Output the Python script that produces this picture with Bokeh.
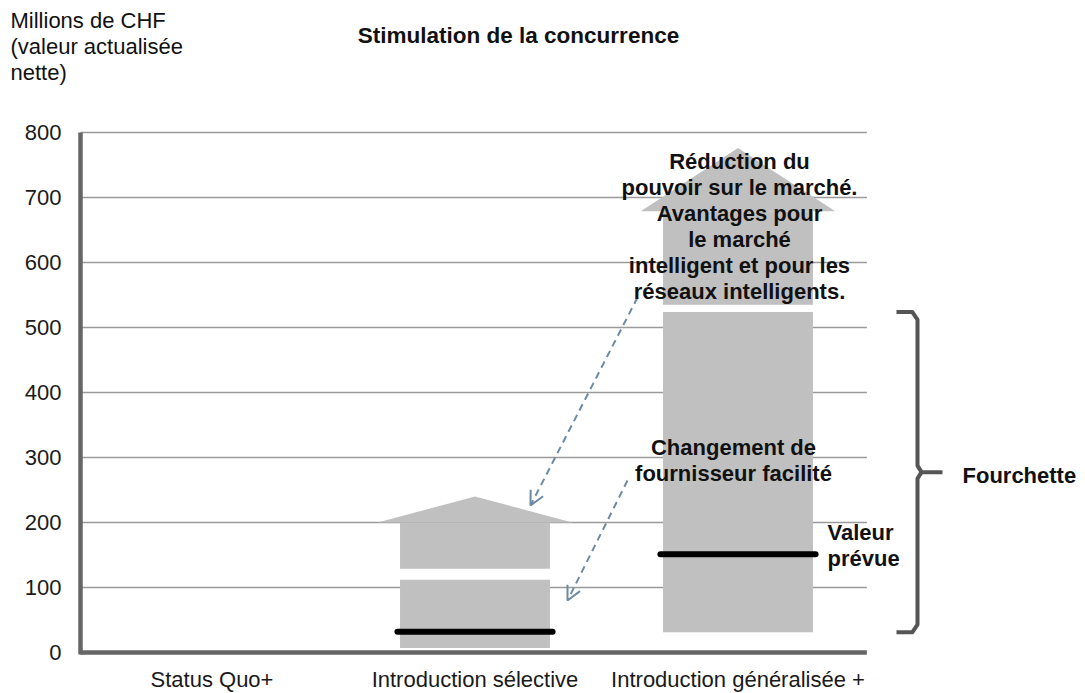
from bokeh.plotting import figure
from bokeh.models import Range1d, FixedTicker, Label, Arrow, OpenHead, ColumnDataSource
from bokeh.embed import file_html
from bokeh.resources import INLINE

# ---------------- data ----------------
categories = ["Status Quo+", "Introduction sélective", "Introduction généralisée +"]
cat_pos = [1, 2, 3]
range_low = [None, 7, 31]          # bottom of range bar
range_high = [None, 112, 524]      # top of range bar
expected = [None, 32, 151]         # "Valeur prévue"
arrow_base = [None, 129, 535]      # bottom of upward arrow body
arrow_neck = [None, 200, 679]      # base of the arrow head
arrow_tip = [None, 240, 776]       # tip of the arrow head
y_ticks = [0, 100, 200, 300, 400, 500, 600, 700, 800]

FONT = "Liberation Sans"
W, H = 1085, 693

# pixel helpers for annotation placement (canvas px -> data coords)
def X(px):
    return 0.5 + (px - 80) / 263.0

def Y(py):
    return (652 - py) / 0.65

p = figure(width=W, height=H, output_backend="svg", toolbar_location=None,
           x_range=Range1d(X(0), X(W)), y_range=Range1d(Y(H), Y(0)),
           min_border_left=0, min_border_right=0, min_border_top=0,
           min_border_bottom=0, background_fill_color="white",
           border_fill_color="white")
p.outline_line_color = None
p.xgrid.visible = False
p.ygrid.visible = False

# grid lines (only over the category area)
p.segment(x0=[0.5] * (len(y_ticks) - 1), x1=[3.49] * (len(y_ticks) - 1),
          y0=y_ticks[1:], y1=y_ticks[1:], line_color="#9a9a9a", line_width=1.7)

idx = [i for i in range(len(categories)) if range_low[i] is not None]
xs = [cat_pos[i] for i in idx]
bar_w = 0.57
head_w = 0.74

src = ColumnDataSource(dict(
    x=xs,
    low=[range_low[i] for i in idx],
    high=[range_high[i] for i in idx],
    exp=[expected[i] for i in idx],
    base=[arrow_base[i] for i in idx],
    neck=[arrow_neck[i] for i in idx],
    left=[x - bar_w / 2 for x in xs],
    right=[x + bar_w / 2 for x in xs],
    l0=[x - 0.295 for x in xs],
    l1=[x + 0.295 for x in xs],
))

# range bars
p.quad(left="left", right="right", bottom="low", top="high", source=src,
       fill_color="#c0c0c0", line_color=None)
# arrow bodies
p.quad(left="left", right="right", bottom="base", top="neck", source=src,
       fill_color="#c0c0c0", line_color=None)
# arrow heads
head_xs = [[x - head_w / 2, x, x + head_w / 2] for x in xs]
head_ys = [[arrow_neck[i], arrow_tip[i], arrow_neck[i]] for i in idx]
p.patches(head_xs, head_ys, fill_color="#c0c0c0", line_color=None)

# expected value lines
p.segment(x0="l0", x1="l1", y0="exp", y1="exp", source=src, line_color="black",
          line_width=6, line_cap="round")

# axis lines
p.segment(x0=[0.5], x1=[3.49], y0=[0], y1=[0], line_color="#666666", line_width=4.5)
p.segment(x0=[0.5], x1=[0.5], y0=[-3], y1=[800], line_color="#666666", line_width=4.5)

# axes (fixed inside the frame so they take no border space)
p.yaxis.fixed_location = 0.5
p.yaxis.ticker = FixedTicker(ticks=y_ticks)
p.yaxis.axis_line_color = None
p.yaxis.major_tick_line_color = None
p.yaxis.minor_tick_line_color = None
p.yaxis.major_tick_out = 0
p.yaxis.major_tick_in = 0
p.yaxis.major_label_standoff = 19
p.yaxis.major_label_text_font = FONT
p.yaxis.major_label_text_font_size = "22px"
p.yaxis.major_label_text_color = "#1a1a1a"

p.xaxis.fixed_location = 0
p.xaxis.ticker = FixedTicker(ticks=cat_pos)
p.xaxis.major_label_overrides = {c: t for c, t in zip(cat_pos, categories)}
p.xaxis.axis_line_color = None
p.xaxis.major_tick_line_color = None
p.xaxis.minor_tick_line_color = None
p.xaxis.major_tick_out = 0
p.xaxis.major_tick_in = 0
p.xaxis.major_label_standoff = 14
p.xaxis.major_label_text_font = FONT
p.xaxis.major_label_text_font_size = "22px"
p.xaxis.major_label_text_color = "#1a1a1a"

# brace ("Fourchette") spanning the generalised range
top = range_high[2]
bot = range_low[2]
mid = (top + bot) / 2
bx0, bx1, bxk, bxt = X(896), X(917), X(921), X(942)
p.multi_line(
    xs=[[bx0, bx1 - 0.02, bx1, bx1, bxk, bxt],
        [bxk, bx1, bx1, bx1 - 0.02, bx0]],
    ys=[[top, top, top - 12, mid + 10, mid, mid],
        [mid, mid - 10, bot + 12, bot, bot]],
    line_color="#555555", line_width=4, line_join="round")

# dashed pointer arrows
ac = "#6d8aa5"
p.add_layout(Arrow(end=OpenHead(size=14, line_color=ac, line_width=2),
                   x_start=X(637), y_start=Y(297), x_end=X(530), y_end=Y(505),
                   line_color=ac, line_width=2, line_dash="7 5"))
p.add_layout(Arrow(end=OpenHead(size=14, line_color=ac, line_width=2),
                   x_start=X(627), y_start=Y(480), x_end=X(567), y_end=Y(600),
                   line_color=ac, line_width=2, line_dash="7 5"))

# texts
def lab(x, y, text, size="22px", bold=False, align="left", baseline="middle", lh=1.04):
    p.add_layout(Label(x=x, y=y, text=text, text_font=FONT, text_font_size=size,
                       text_font_style="bold" if bold else "normal",
                       text_align=align, text_baseline=baseline,
                       text_color="#111111", text_line_height=lh))

lab(X(10), Y(46), "Millions de CHF\n(valeur actualisée\nnette)", lh=1.057)
lab(X(518), Y(35), "Stimulation de la concurrence", size="22.5px", bold=True,
    align="center")
lab(X(739), Y(226), "Réduction du\npouvoir sur le marché.\nAvantages pour\nle marché\n"
    "intelligent et pour les\nréseaux intelligents.", bold=True, align="center")
lab(X(733), Y(460), "Changement de\nfournisseur facilité", bold=True, align="center")
lab(X(827), Y(545), "Valeur\nprévue", bold=True)
lab(X(962), Y(475), "Fourchette", bold=True)

open("out.html", "w").write(file_html(p, INLINE))
